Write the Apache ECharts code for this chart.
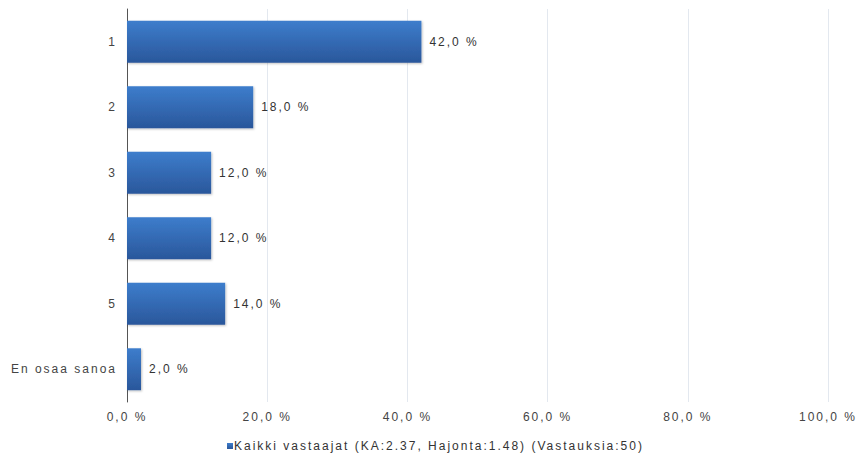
<!DOCTYPE html>
<html><head><meta charset="utf-8">
<script src="https://cdn.jsdelivr.net/npm/echarts@6/dist/echarts.min.js"></script>
<style>html,body{margin:0;padding:0;background:#fff}#c{width:858px;height:457px}
#c svg text{letter-spacing:2px}</style>
</head><body><div id="c"></div>
<script>
const categories = ['1','2','3','4','5','En osaa sanoa'];
const values = [42.0, 18.0, 12.0, 12.0, 14.0, 2.0];
const xTicks = [0, 20, 40, 60, 80, 100];
const seriesName = 'Kaikki vastaajat (KA:2.37, Hajonta:1.48) (Vastauksia:50)';
const fmt = v => v.toFixed(1).replace('.', ',') + ' %';
const chart = echarts.init(document.getElementById('c'), null, {renderer: 'svg'});
chart.setOption({
  animation: false,
  textStyle: {fontFamily: 'Liberation Sans, Arial, sans-serif'},
  grid: {left: 127, right: 30, top: 9, bottom: 55, containLabel: false},
  legend: {
    bottom: 0, left: 222, itemWidth: 6, itemHeight: 6, itemGap: 10,
    icon: 'rect',
    textStyle: {fontSize: 12, color: '#333', padding: [0,0,0,-4]},
    data: [seriesName]
  },
  xAxis: {
    type: 'value', min: 0, max: 100, interval: 20,
    axisLine: {show: false}, axisTick: {show: false},
    splitLine: {lineStyle: {color: '#e3e8ef', width: 1}},
    axisLabel: {fontSize: 12, color: '#444', margin: 9, formatter: v => fmt(v)}
  },
  yAxis: {
    type: 'category', inverse: true, data: categories,
    axisLine: {show: true, lineStyle: {color: '#555', width: 1}},
    axisTick: {show: false},
    axisLabel: {fontSize: 12, color: '#444', margin: 10}
  },
  series: [{
    name: seriesName, type: 'bar', data: values, barWidth: '64%',
    itemStyle: {
      color: new echarts.graphic.LinearGradient(0, 0, 0, 1, [
        {offset: 0, color: '#3d7dcc'}, {offset: 1, color: '#2a579b'}
      ]),
      shadowColor: 'rgba(0,0,0,0.25)', shadowBlur: 2, shadowOffsetX: 1, shadowOffsetY: 1
    },
    label: {show: true, position: 'right', distance: 8, fontSize: 12, color: '#333', formatter: p => fmt(p.value)}
  }]
});
</script></body></html>
